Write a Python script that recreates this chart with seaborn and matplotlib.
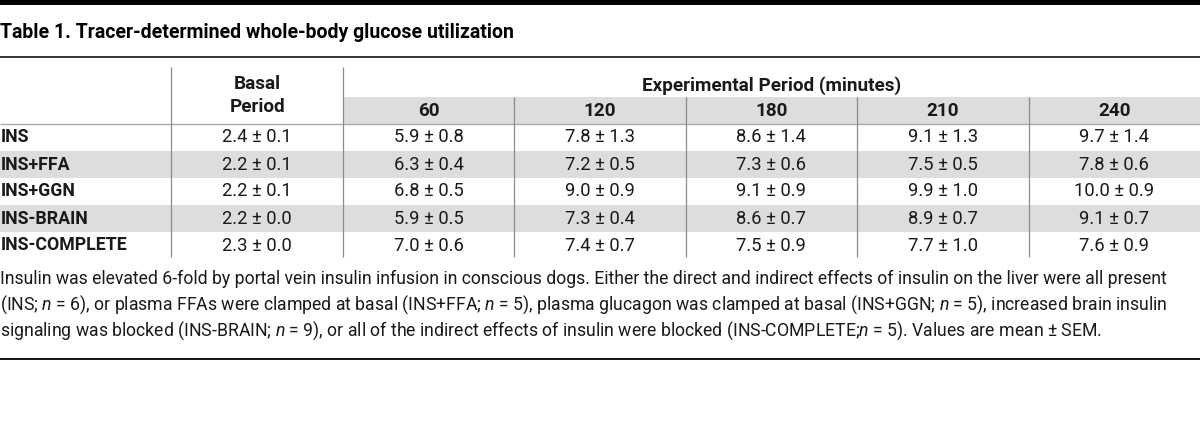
import numpy as np
import matplotlib
matplotlib.use('Agg')
import matplotlib.pyplot as plt
from matplotlib import font_manager
from matplotlib.colors import ListedColormap
from matplotlib.patches import Rectangle
import seaborn as sns

# ==================== DATA ====================

GROUPS = ['INS', 'INS+FFA', 'INS+GGN', 'INS-BRAIN', 'INS-COMPLETE']
MINUTES = ['60', '120', '180', '210', '240']

MEANS = [
    [2.4, 5.9, 7.8, 8.6, 9.1, 9.7],
    [2.2, 6.3, 7.2, 7.3, 7.5, 7.8],
    [2.2, 6.8, 9.0, 9.1, 9.9, 10.0],
    [2.2, 5.9, 7.3, 8.6, 8.9, 9.1],
    [2.3, 7.0, 7.4, 7.5, 7.7, 7.6],
]
SEMS = [
    [0.1, 0.8, 1.3, 1.4, 1.3, 1.4],
    [0.1, 0.4, 0.5, 0.6, 0.5, 0.6],
    [0.1, 0.5, 0.9, 0.9, 1.0, 0.9],
    [0.0, 0.5, 0.4, 0.7, 0.7, 0.7],
    [0.0, 0.6, 0.7, 0.9, 1.0, 0.9],
]

TITLE = 'Table 1. Tracer-determined whole-body glucose utilization'
CAPTION = [
    'Insulin was elevated 6-fold by portal vein insulin infusion in conscious dogs. '
    'Either the direct and indirect effects of insulin on the liver were all present',
    '(INS; $n$ = 6), or plasma FFAs were clamped at basal (INS+FFA; $n$ = 5), '
    'plasma glucagon was clamped at basal (INS+GGN; $n$ = 5), increased brain insulin',
    'signaling was blocked (INS-BRAIN; $n$ = 9), or all of the indirect effects of '
    'insulin were blocked (INS-COMPLETE;$n$ = 5). Values are mean ± SEM.',
]

# ==================== STYLE ====================

names = {f.name for f in font_manager.fontManager.ttflist}
FONT = 'Liberation Sans Narrow' if 'Liberation Sans Narrow' in names else 'Roboto'

sns.set_theme(style='white')
plt.rcParams['font.family'] = [FONT, 'DejaVu Sans']
plt.rcParams['mathtext.fontset'] = 'custom'
plt.rcParams['mathtext.it'] = FONT + ':italic'
plt.rcParams['mathtext.rm'] = FONT

GRAY = '#dcdddf'
INK = '#1a1a1a'

W, H = 1200, 448
col_w = W / 7
row_top, row_h = 124, 27

fig = plt.figure(figsize=(12, 4.48), dpi=100)
fig.patch.set_facecolor('white')

# ==================== TABLE BODY (heatmap) ====================

n_rows = len(GROUPS)
band = np.array([[i % 2] * 7 for i in range(n_rows)])
cell_text = [[''] + [f'{m:.1f} ± {s:.1f}' for m, s in zip(MEANS[i], SEMS[i])]
             for i in range(n_rows)]

hax = fig.add_axes([0, 1 - (row_top + n_rows * row_h) / H, 1, n_rows * row_h / H])
hax.set_zorder(1)
sns.heatmap(
    band,
    cmap=ListedColormap(['white', GRAY]),
    vmin=0, vmax=1,
    cbar=False,
    annot=np.array(cell_text),
    fmt='',
    annot_kws={'fontsize': 12, 'color': INK},
    xticklabels=False,
    yticklabels=False,
    ax=hax
)
hax.axis('off')

# ==================== FRAME, HEADER, CAPTION ====================

ax = fig.add_axes([0, 0, 1, 1])
ax.set_zorder(2)
ax.patch.set_alpha(0)
ax.set_xlim(0, W)
ax.set_ylim(H, 0)
ax.axis('off')

ax.add_patch(Rectangle((0, 0), W, 5, color='black', lw=0))
ax.add_patch(Rectangle((2 * col_w, 97), W - 2 * col_w, 27, color=GRAY, lw=0))

ax.hlines(57, 0, W, color='#222222', lw=1.3)
ax.hlines(row_top, 0, W, color='#aaaaaa', lw=1.0)
ax.hlines(359, 0, W, color='black', lw=1.3)
ax.vlines([col_w, 2 * col_w], 67, 257, color='#8c8c8c', lw=0.9)
ax.vlines([k * col_w for k in range(3, 7)], 97, 257, color='#8c8c8c', lw=0.9)

title = ax.text(0, 33, TITLE, fontsize=14, fontweight='bold', color='black',
                ha='left', va='center')

hdr_kw = dict(fontsize=12, fontweight='bold', color=INK, ha='center', va='center')
ax.text(1.5 * col_w, 84, 'Basal', **hdr_kw)
ax.text(1.5 * col_w, 107, 'Period', **hdr_kw)
exp = ax.text(4.5 * col_w, 86, 'Experimental Period (minutes)', **hdr_kw)
mins = [ax.text((k + 2.5) * col_w, 111, m, **hdr_kw) for k, m in enumerate(MINUTES)]

labels = [ax.text(1, row_top + row_h * (i + 0.5), g, fontsize=12, fontweight='bold',
                  color=INK, ha='left', va='center') for i, g in enumerate(GROUPS)]

caps = [ax.text(0, y, line, fontsize=11, color=INK, ha='left', va='center')
        for y, line in zip([279, 305, 331], CAPTION)]

# ==================== FIT TEXT WIDTHS ====================

def fit(texts, ref, target):
    fig.canvas.draw()
    w = ref.get_window_extent().width
    size = ref.get_fontsize() * target / w
    for t in texts:
        t.set_fontsize(size)

fit([title], title, 517)
fit(caps, caps[0], 1160)
fit(labels, labels[-1], 127)
fit(hdr_kw_texts := [t for t in ax.texts if t.get_fontweight() == 'bold'
                     and t not in labels and t is not title], exp, 258)
cells = list(hax.texts)
ref_cell = [t for t in cells if t.get_text() == '10.0 ± 0.9'][0]
fit(cells, ref_cell, 80)

plt.savefig('out.png', dpi=100)
